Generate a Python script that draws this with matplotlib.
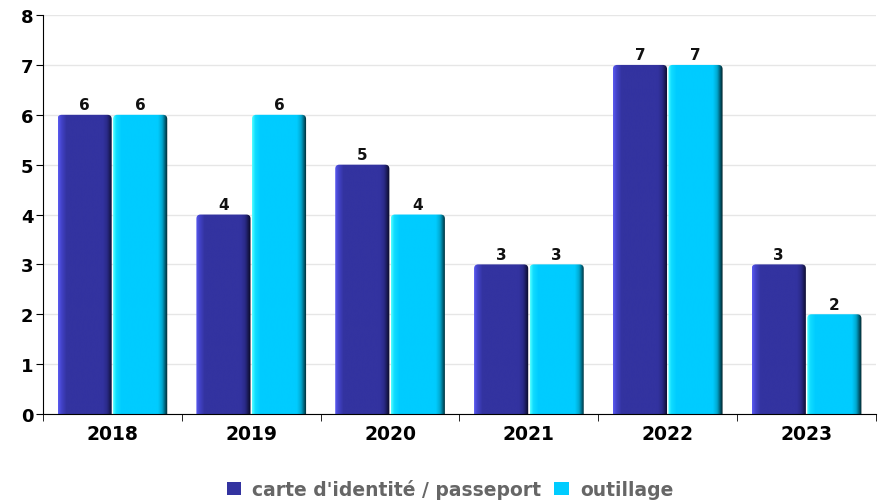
import numpy as np
import matplotlib
matplotlib.use('Agg')
import matplotlib.pyplot as plt
from matplotlib.colors import LinearSegmentedColormap
from matplotlib.patches import Rectangle, FancyBboxPatch

years = ['2018', '2019', '2020', '2021', '2022', '2023']
carte = [6, 4, 5, 3, 7, 3]
outillage = [6, 6, 4, 3, 7, 2]
series_names = ["carte d'identité / passeport", 'outillage']
colors = ['#3333a0', '#00ccff']

# left-to-right shading of each bar, to give the raised look
shades = {
    '#3333a0': ['#5a5af0', '#4444cc', '#3333a0', '#3333a0', '#2a2a88', '#0a0a25'],
    '#00ccff': ['#55ffff', '#11ddff', '#00ccff', '#00ccff', '#00a8d0', '#002028'],
}
stops = [0.0, 0.05, 0.15, 0.82, 0.9, 1.0]

fig = plt.figure(figsize=(8.86, 5.02), dpi=100)
ax = fig.add_axes([0.0485, 0.1733, 0.9402, 0.7947])

x = np.arange(len(years))
width = 0.39
offsets = [-0.2, 0.2]
# aspect between y and x data units (px per x unit / px per y unit)
asp = 138.8 / 49.9


def shaded_bar(ax, xc, h, color):
    cmap = LinearSegmentedColormap.from_list('b', list(zip(stops, shades[color])))
    grad = np.linspace(0, 1, 100).reshape(1, -1)
    left = xc - width / 2
    patch = FancyBboxPatch((left, -0.3), width, h + 0.3,
                           boxstyle='round,pad=0,rounding_size=0.03',
                           mutation_aspect=asp, facecolor='none', edgecolor='none')
    ax.add_patch(patch)
    im = ax.imshow(grad, cmap=cmap, aspect='auto', extent=(left, left + width, -0.3, h),
                   interpolation='bicubic', zorder=2)
    im.set_clip_path(patch)


for vals, off, col in zip([carte, outillage], offsets, colors):
    for xi, v in zip(x, vals):
        shaded_bar(ax, xi + off, v, col)
        ax.text(xi + off, v + 0.05, str(v), ha='center', va='bottom',
                fontsize=11, fontweight='bold', color='#111111')

ax.set_xlim(-0.5, 5.5)
ax.set_ylim(0, 8)
ax.set_yticks(range(0, 9))
ax.set_xticks(x)
ax.set_xticklabels(years)
ax.set_xticks(np.arange(-0.5, 6.0, 1.0), minor=True)
ax.tick_params(axis='x', which='major', length=0, pad=7, labelsize=13.5)
ax.tick_params(axis='x', which='minor', length=5, color='black')
ax.tick_params(axis='y', length=5, labelsize=13, pad=2)
for lab in ax.get_xticklabels() + ax.get_yticklabels():
    lab.set_fontweight('bold')
ax.grid(axis='y', color='#e6e6e6', linewidth=1)
ax.set_axisbelow(True)
for s in ['top', 'right']:
    ax.spines[s].set_visible(False)
ax.spines['left'].set_color('black')
ax.spines['bottom'].set_color('black')
ax.spines['left'].set_zorder(3)
ax.spines['bottom'].set_zorder(3)

handles = [Rectangle((0, 0), 1, 1, facecolor=c) for c in colors]
leg = fig.legend(handles, series_names, loc='center', bbox_to_anchor=(0.508, 0.024),
                 ncol=2, frameon=False, handlelength=0.75, handleheight=0.75,
                 handletextpad=0.6, columnspacing=0.7,
                 prop={'size': 13.5, 'weight': 'bold'})
for t in leg.get_texts():
    t.set_color('#666666')

fig.savefig('out.png', dpi=100)
